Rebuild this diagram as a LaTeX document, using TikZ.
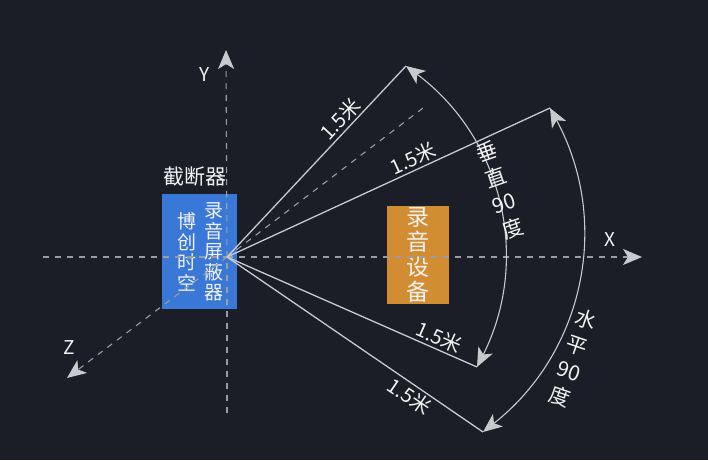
\documentclass[tikz,border=0pt]{standalone}
\usepackage{fontspec}
\setmainfont{Noto Sans CJK SC}
\usetikzlibrary{arrows.meta}
\usetikzlibrary{positioning}

\definecolor{bgcol}{HTML}{1B1E26}
\definecolor{linecol}{HTML}{C8CACD}
\definecolor{dashcol}{HTML}{9A9DA3}
\definecolor{txtcol}{HTML}{F2F2F2}
\definecolor{bluebox}{HTML}{3A78D8}
\definecolor{orangebox}{HTML}{D28C32}

\begin{document}
\begin{tikzpicture}[x=1pt, y=-1pt,
every node/.style={text=txtcol, inner sep=2pt},
tip/.style={-{Stealth[length=19pt, width=16pt, inset=5pt, fill=linecol, color=linecol]}},
axisline/.style={tip, draw=dashcol, line width=1.1pt, dash pattern=on 6pt off 6pt},
ray/.style={draw=linecol, line width=1.3pt},
arcline/.style={{Stealth[length=19pt, width=16pt, inset=5pt]}-{Stealth[length=19pt, width=16pt, inset=5pt]}, draw=linecol, line width=1.1pt},
dist/.style={font=\fontsize{20}{22}\selectfont, sloped},
stack/.style={align=center, font=\fontsize{21}{27}\selectfont}]
\fill[bgcol] (0,0) rectangle (708,460);
\useasboundingbox (0,0) rectangle (708,460);

% boxes
\node[fill=bluebox, minimum width=75pt, minimum height=115pt] (blocker) at (199.5,251.5) {};
\node[align=center, font=\fontsize{19}{20.5}\selectfont] (brand) at (213.5,252) {录\\音\\屏\\蔽\\器};
\node[align=center, font=\fontsize{19}{20.5}\selectfont] (maker) at (187,252) {博\\创\\时\\空};
\node[font=\fontsize{21}{24}\selectfont] (title) at (195,177) {截断器};
\node[fill=orangebox, minimum width=62pt, minimum height=98pt, align=center,
font=\fontsize{23}{25}\selectfont] (device) at (418,255) {录\\音\\设\\备};

% axes
\coordinate (O) at (227,257);
\coordinate (ytop) at (226,50);
\coordinate (ybot) at (227,413);
\coordinate (xleft) at (43,257);
\coordinate (xright) at (642,257);
\coordinate (zend) at (67,378);
\draw[axisline, -] (ybot) -- (O);
\draw[axisline] (O) -- (ytop);
\draw[axisline, -] (xleft) -- (O);
\draw[axisline] (O) -- (xright);
\draw[axisline] (O) -- (zend);
\node[font=\fontsize{19}{22}\selectfont] (ylab) at (205,75) {Y};
\node[font=\fontsize{19}{22}\selectfont] (xlab) at (610,240) {X};
\node[font=\fontsize{19}{22}\selectfont] (zlab) at (69,348) {Z};

% rays
\coordinate (a1) at (406,66);
\coordinate (a2) at (550,108);
\coordinate (a3) at (477,367);
\coordinate (a4) at (483,432);
\coordinate (mid) at (427,105);
\draw[axisline, -] (O) -- (mid);
\draw[ray] (O) -- node[dist, pos=.68, above] {1.5米} (a1);
\draw[ray] (O) -- node[dist, pos=.59, above] {1.5米} (a2);
\draw[ray] (O) -- node[dist, pos=.83, above] {1.5米} (a3);
\draw[ray] (O) -- node[dist, pos=.74, below] {1.5米} (a4);

% angles
\draw[arcline] (a1) to[bend left=40] (a3);
\draw[arcline] (a2) to[bend left=40] (a4);
\node[stack, rotate=19] (vert) at (500,190) {垂\\直\\90\\度};
\node[stack, rotate=-19] (horiz) at (573,358) {水\\平\\90\\度};
\end{tikzpicture}
\end{document}
